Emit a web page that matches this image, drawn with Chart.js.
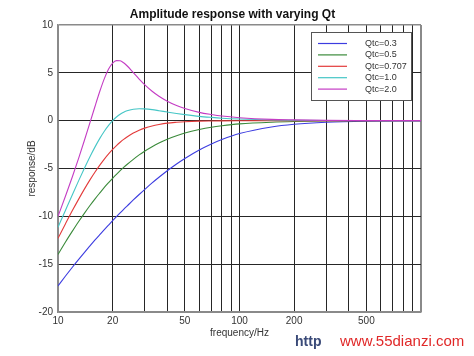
<!DOCTYPE html>
<html>
<head>
<meta charset="utf-8">
<script src="https://cdn.jsdelivr.net/npm/chart.js@4/dist/chart.umd.min.js"></script>
<style>
html,body{margin:0;padding:0;background:#fff;}
#wrap{position:relative;width:474px;height:356px;}
</style>
</head>
<body>
<div id="wrap"><canvas id="c" width="474" height="356"></canvas></div>
<script>
// ---- data ----
const freqs = [10,11,12,13,14,15,16,17,18,19,20,21,22,23,24,26,28,30,33,36,40,45,50,60,70,80,100,150,200,300,500,1000];
const qtc03 = [-17.28,-16.24,-15.32,-14.50,-13.76,-13.09,-12.47,-11.91,-11.39,-10.91,-10.46,-10.04,-9.64,-9.27,-8.93,-8.29,-7.72,-7.20,-6.51,-5.92,-5.24,-4.53,-3.95,-3.06,-2.43,-1.97,-1.35,-0.66,-0.38,-0.17,-0.06,-0.02];
const qtc05 = [-13.98,-12.68,-11.55,-10.54,-9.66,-8.87,-8.17,-7.55,-6.98,-6.48,-6.02,-5.61,-5.23,-4.89,-4.58,-4.04,-3.58,-3.19,-2.72,-2.34,-1.94,-1.57,-1.29,-0.92,-0.68,-0.53,-0.34,-0.16,-0.09,-0.04,-0.01,0];
const qtc0707 = [-12.30,-10.77,-9.40,-8.20,-7.13,-6.19,-5.37,-4.65,-4.02,-3.48,-3.01,-2.61,-2.26,-1.96,-1.71,-1.30,-1.00,-0.78,-0.55,-0.40,-0.26,-0.17,-0.11,-0.05,-0.03,-0.02,-0.01,0,0,0,0,0];
const qtc10 = [-11.14,-9.36,-7.74,-6.27,-4.95,-3.77,-2.74,-1.85,-1.10,-0.49,0,0.38,0.67,0.88,1.04,1.20,1.25,1.23,1.15,1.04,0.90,0.75,0.63,0.45,0.34,0.26,0.17,0.07,0.04,0.02,0.01,0];
const qtc20 = [-10.00,-7.88,-5.86,-3.91,-2.02,-0.21,1.51,3.07,4.39,5.40,6.02,6.28,6.26,6.05,5.74,5.02,4.35,3.77,3.08,2.56,2.04,1.59,1.28,0.87,0.64,0.48,0.31,0.13,0.08,0.03,0.01,0];
const seriesLabels = ['Qtc=0.3','Qtc=0.5','Qtc=0.707','Qtc=1.0','Qtc=2.0'];
const xGridTicks = [10,20,30,40,50,60,70,80,90,100,200,300,400,500,600,700,800,900,1000];
const xTickLabels = [10,20,50,100,200,500];
const yTicks = [-20,-15,-10,-5,0,5,10];
const titleText = 'Amplitude response with varying Qt';
const xTitle = 'frequency/Hz';
const yTitle = 'response/dB';

const colors = ['#3c3ce0','#3a8a3a','#e33a3a','#45c6c6','#c43cc4'];
const allSeries = [qtc03, qtc05, qtc0707, qtc10, qtc20];

const toPts = arr => arr.map((v,i)=>({x:freqs[i], y:v}));

const datasets = allSeries.map((s,i)=>({
  label: seriesLabels[i],
  data: toPts(s),
  borderColor: colors[i],
  backgroundColor: colors[i],
  borderWidth: 1.1,
  pointRadius: 0,
  fill: false,
  cubicInterpolationMode: 'monotone',
  order: allSeries.length - i
}));

const FONT = 'Arial, "Liberation Sans", sans-serif';

const decorPlugin = {
  id: 'decor',
  afterDraw(chart) {
    const ctx = chart.ctx;
    ctx.save();
    // title
    ctx.font = 'bold 12px ' + FONT;
    ctx.fillStyle = '#111';
    ctx.textAlign = 'center';
    ctx.textBaseline = 'middle';
    ctx.fillText(titleText, 232.5, 14.5);
    // legend box
    const bx = 311, by = 32, bw = 100, bh = 68;
    ctx.fillStyle = '#fff';
    ctx.fillRect(bx, by, bw, bh);
    ctx.strokeStyle = '#555';
    ctx.lineWidth = 1;
    ctx.strokeRect(bx + 0.5, by + 0.5, bw, bh);
    ctx.font = '9px ' + FONT;
    ctx.textBaseline = 'middle';
    ctx.textAlign = 'left';
    chart.data.datasets.forEach((ds, i) => {
      const y = 43.5 + i * 11.4;
      ctx.strokeStyle = ds.borderColor;
      ctx.lineWidth = 1.2;
      ctx.beginPath();
      ctx.moveTo(318, y);
      ctx.lineTo(347, y);
      ctx.stroke();
      ctx.fillStyle = '#333';
      ctx.fillText(ds.label, 365, y);
    });
    // watermark text
    ctx.font = 'bold 14px ' + FONT;
    ctx.fillStyle = '#3a4a78';
    ctx.fillText('http', 295, 342);
    ctx.font = '15px ' + FONT;
    ctx.fillStyle = '#e02828';
    ctx.fillText('www.55dianzi.com', 340, 342);
    ctx.restore();
  }
};

new Chart(document.getElementById('c'), {
  type: 'line',
  data: { datasets },
  options: {
    responsive: false,
    animation: false,
    events: [],
    layout: { padding: { left: 0, right: 53, top: 25, bottom: 0 } },
    plugins: {
      legend: { display: false },
      tooltip: { enabled: false },
      title: { display: false }
    },
    scales: {
      x: {
        type: 'logarithmic',
        min: 10,
        max: 1000,
        afterBuildTicks(scale) {
          scale.ticks = xGridTicks.map(v => ({ value: v }));
        },
        afterFit(scale) { scale.height = 44; },
        ticks: {
          autoSkip: false,
          maxRotation: 0,
          padding: 3,
          color: '#333',
          font: { family: FONT, size: 10 },
          callback: (v) => xTickLabels.includes(v) ? String(v) : ''
        },
        grid: {
          drawTicks: false,
          color: (c) => (c.tick && (c.tick.value === 1000 || c.tick.value === 10)) ? '#8a8a8a' : '#262626',
          lineWidth: (c) => (c.tick && c.tick.value === 1000) ? 2 : 1
        },
        border: { color: '#8a8a8a', width: 1.5 },
        title: {
          display: true,
          text: xTitle,
          color: '#333',
          font: { family: FONT, size: 10 },
          padding: { top: 0, bottom: 17 }
        }
      },
      y: {
        type: 'linear',
        min: -20,
        max: 10,
        afterBuildTicks(scale) {
          scale.ticks = yTicks.map(v => ({ value: v }));
        },
        afterFit(scale) { scale.width = 58; },
        ticks: {
          padding: 5,
          color: '#333',
          font: { family: FONT, size: 10 }
        },
        grid: {
          drawTicks: false,
          color: (c) => (c.tick && (c.tick.value === 10 || c.tick.value === -20)) ? '#8a8a8a' : '#262626',
          lineWidth: (c) => (c.tick && c.tick.value === 10) ? 1.5 : 1
        },
        border: { color: '#8a8a8a', width: 1.5 },
        title: {
          display: true,
          text: yTitle,
          color: '#333',
          font: { family: FONT, size: 10 },
          padding: { top: 26, bottom: 0 }
        }
      }
    }
  },
  plugins: [decorPlugin]
});
</script>
</body>
</html>
